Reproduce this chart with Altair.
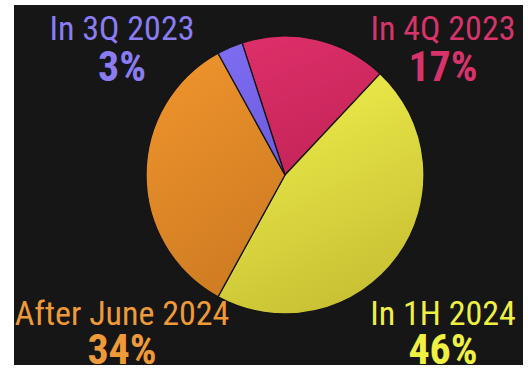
import math
import altair as alt
import pandas as pd

# Share of respondents by expected timing
periods = ["In 4Q 2023", "In 1H 2024", "After June 2024", "In 3Q 2023"]
shares = [17, 46, 34, 3]
pct_labels = ["17%", "46%", "34%", "3%"]

# Slice gradients (top stop, bottom stop) and label colours
slice_top = ["#dc2e68", "#eeee4c", "#ee932c", "#7d6cf0"]
slice_bottom = ["#c22458", "#c6be32", "#cc7a22", "#6c5ce0"]
label_colors = ["#d8336b", "#f0f042", "#ef9a38", "#8a7cf2"]

# Label anchor layout (view pixels): centre x, baseline of name, baseline of percent
label_x = [429, 429, 108, 108]
name_y = [35, 320, 320, 35]
pct_y = [76, 359, 359, 76]

FONT = "Roboto Condensed, Arial Narrow, Nimbus Sans Narrow, Roboto, sans-serif"
START = math.radians(-18)

df = pd.DataFrame({
    "period": periods,
    "share": shares,
    "rank": list(range(len(periods))),
})

labels = pd.DataFrame({
    "period": periods,
    "pct": pct_labels,
    "color": label_colors,
    "lx": label_x,
    "ny": name_y,
    "py": pct_y,
})

theta_scale = alt.Scale(domain=[0, 100], range=[START, START + 2 * math.pi])

base = alt.Chart(df).transform_stack(
    stack="share", groupby=[], as_=["s0", "s1"], sort=[alt.SortField("rank")]
)

slices = []
for p, top, bot in zip(periods, slice_top, slice_bottom):
    grad = alt.LinearGradient(
        gradient="linear",
        stops=[alt.GradientStop(color=top, offset=0), alt.GradientStop(color=bot, offset=1)],
        x1=0.3, y1=0, x2=0.7, y2=1,
    )
    slices.append(
        base.transform_filter(alt.datum.period == p)
        .mark_arc(fill=grad, stroke="#151515", strokeWidth=1.3, outerRadius=139)
        .encode(
            theta=alt.Theta("s0:Q", scale=theta_scale),
            theta2="s1:Q",
            x=alt.value(271),
            y=alt.value(170),
        )
    )

lab = alt.Chart(labels)
names = lab.mark_text(font=FONT, fontSize=34, align="center", baseline="alphabetic").encode(
    x=alt.X("lx:Q", scale=None),
    y=alt.Y("ny:Q", scale=None),
    text="period:N",
    color=alt.Color("color:N", scale=None),
)
pcts = lab.mark_text(font=FONT, fontSize=42, fontWeight="bold", align="center", baseline="alphabetic").encode(
    x=alt.X("lx:Q", scale=None),
    y=alt.Y("py:Q", scale=None),
    text="pct:N",
    color=alt.Color("color:N", scale=None),
)

chart = alt.layer(*slices, names, pcts).properties(
    width=509,
    height=360,
    background="white",
    padding={"left": 14, "top": 5, "right": 5, "bottom": 9},
    autosize=alt.AutoSizeParams(type="none"),
).configure_view(fill="#161616", stroke=None)

chart.save("out.html", embed_options={"renderer": "svg", "actions": False})
